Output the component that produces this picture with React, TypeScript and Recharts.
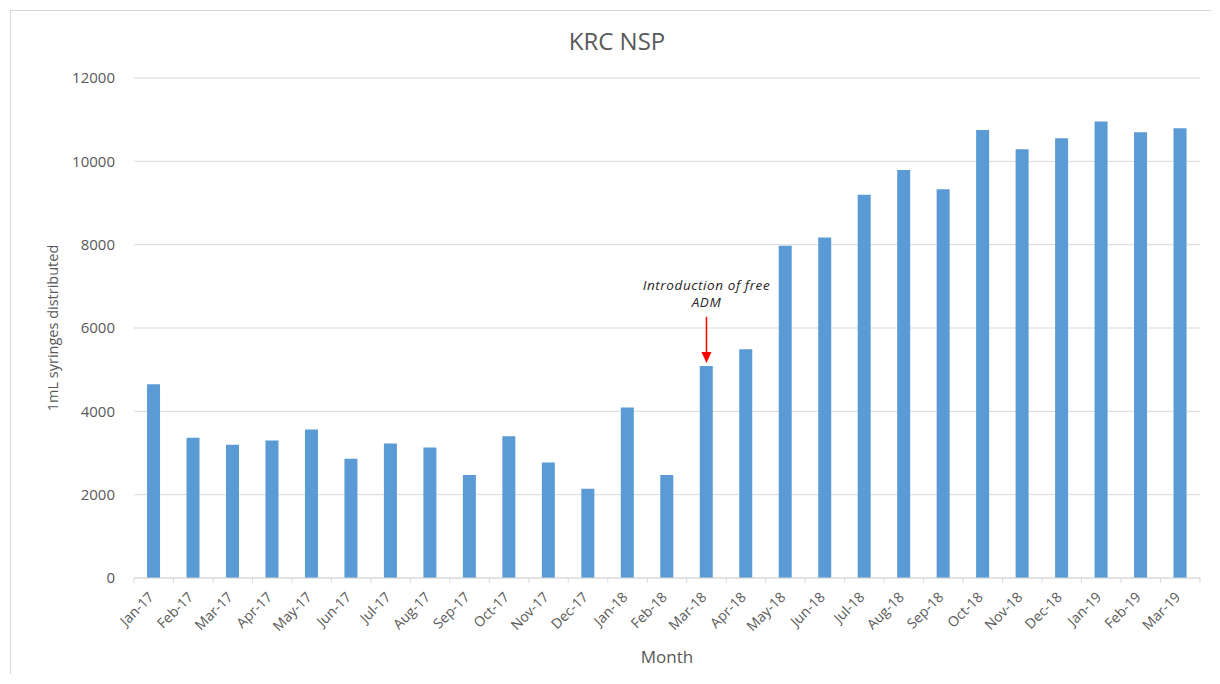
import { BarChart, Bar, XAxis, YAxis, CartesianGrid, ReferenceDot, Label } from "recharts";

const months = [
  "Jan-17", "Feb-17", "Mar-17", "Apr-17", "May-17", "Jun-17", "Jul-17", "Aug-17", "Sep-17",
  "Oct-17", "Nov-17", "Dec-17", "Jan-18", "Feb-18", "Mar-18", "Apr-18", "May-18", "Jun-18",
  "Jul-18", "Aug-18", "Sep-18", "Oct-18", "Nov-18", "Dec-18", "Jan-19", "Feb-19", "Mar-19",
];

const syringes = [
  4650, 3365, 3200, 3300, 3565, 2860, 3230, 3135, 2470,
  3400, 2770, 2140, 4095, 2470, 5090, 5490, 7975, 8170,
  9200, 9795, 9330, 10755, 10290, 10555, 10955, 10700, 10795,
];

const yTicks = [0, 2000, 4000, 6000, 8000, 10000, 12000];

const annotationMonth = "Mar-18";
const annotationLines = ["Introduction of free", "ADM"];

const data = months.map((m, i) => ({ month: m, value: syringes[i] }));

const W = 1200;
const H = 663;
const margin = { top: 67, right: 11, left: 0, bottom: 0 };
const yAxisWidth = 123;
const plotWidth = W - margin.left - margin.right - yAxisWidth;
const band = plotWidth / months.length;

const grey = "#595959";
const font = "'Open Sans', sans-serif";

function MonthTick(props: any) {
  const { x, y, payload, index } = props;
  const left = x - band / 2;
  return (
    <g>
      <line x1={left} y1={y - 8} x2={left} y2={y - 3} stroke="#d9d9d9" />
      {index === months.length - 1 && (
        <line x1={x + band / 2} y1={y - 8} x2={x + band / 2} y2={y - 3} stroke="#d9d9d9" />
      )}
      <text
        x={x + 1}
        y={y + 12}
        transform={`rotate(-45, ${x + 1}, ${y + 12})`}
        textAnchor="end"
        fontSize={14}
        fill={grey}
        fontFamily={font}
      >
        {payload.value}
      </text>
    </g>
  );
}

// arrow + italic note sitting above the bar
function ArrowNote(props: any) {
  const { cx, cy } = props;
  if (cx == null || cy == null) return null;
  return (
    <g>
      {annotationLines.map((t, i) => (
        <text
          key={i}
          x={cx}
          y={cy - 81 + i * 17 + 5}
          textAnchor="middle"
          fontSize={13.5}
          letterSpacing={0.6}
          fontStyle="italic"
          fill="#262626"
          fontFamily={font}
        >
          {t}
        </text>
      ))}
      <line x1={cx} y1={cy - 49} x2={cx} y2={cy - 13} stroke="#ff0000" strokeWidth={1.5} />
      <polygon points={`${cx - 5},${cy - 14} ${cx + 5},${cy - 14} ${cx},${cy - 3}`} fill="#ff0000" />
    </g>
  );
}

export default function App() {
  const noteValue = syringes[months.indexOf(annotationMonth)];
  return (
    <div style={{ paddingLeft: 2, paddingTop: 2 }}>
      <div style={{ position: "relative", width: 1202, height: 664, overflow: "hidden" }}>
        <div
          style={{
            position: "absolute",
            left: 0,
            top: 0,
            width: 1240,
            height: 700,
            border: "1px solid #d9d9d9",
            boxSizing: "border-box",
          }}
        />
        <div
          style={{
            position: "absolute",
            top: 19,
            left: 0,
            width: 1214,
            textAlign: "center",
            fontFamily: font,
            fontSize: 24,
            lineHeight: "24px",
            color: grey,
          }}
        >
          KRC NSP
        </div>
        <div style={{ position: "absolute", left: 1, top: 1 }}>
          <BarChart width={W} height={H} data={data} margin={margin} barCategoryGap="33%">
            <CartesianGrid vertical={false} stroke="#d9d9d9" />
            <XAxis
              dataKey="month"
              interval={0}
              height={96}
              tickLine={false}
              axisLine={{ stroke: "#d9d9d9" }}
              tick={<MonthTick />}
            >
              <Label
                value="Month"
                position="insideBottom"
                offset={11}
                fontSize={17}
                fill={grey}
                fontFamily={font}
              />
            </XAxis>
            <YAxis
              width={yAxisWidth}
              domain={[0, 12000]}
              ticks={yTicks}
              axisLine={false}
              tickLine={false}
              tickMargin={13}
              tick={{ fontSize: 15, fill: grey, fontFamily: font }}
            >
              <Label
                value="1mL syringes distributed"
                angle={-90}
                position="center"
                dx={-20}
                fontSize={14.5}
                fill={grey}
                fontFamily={font}
              />
            </YAxis>
            <Bar dataKey="value" fill="#5b9bd5" isAnimationActive={false} />
            <ReferenceDot x={annotationMonth} y={noteValue} r={0} shape={<ArrowNote />} />
          </BarChart>
        </div>
      </div>
    </div>
  );
}
